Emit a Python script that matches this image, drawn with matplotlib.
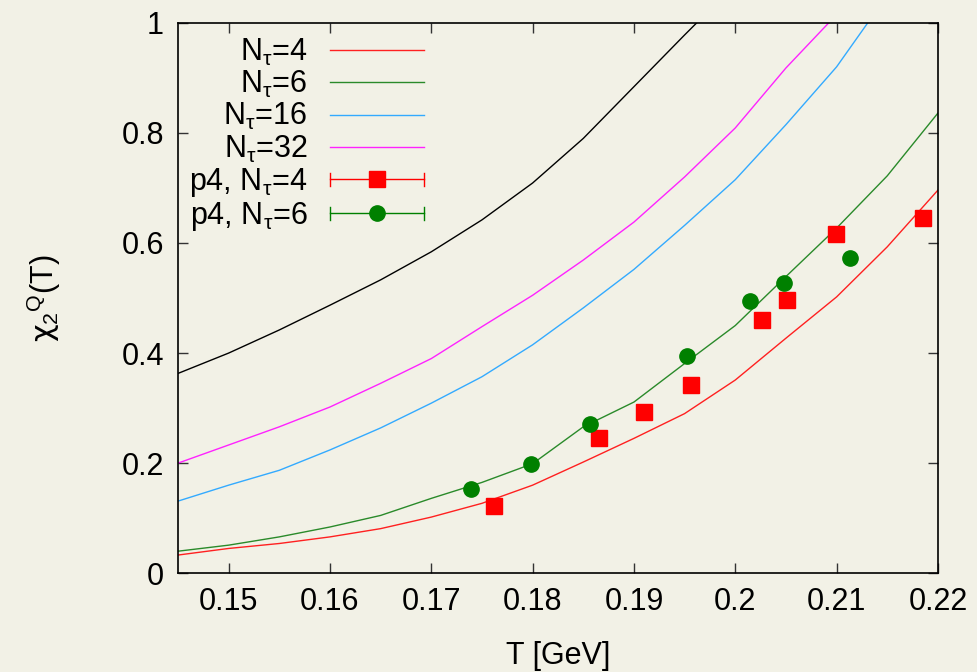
import matplotlib
matplotlib.use('Agg')
import matplotlib.pyplot as plt
from matplotlib.legend_handler import HandlerBase
from matplotlib.lines import Line2D

# temperature grid of the curves [GeV]
T = [0.145, 0.150, 0.155, 0.160, 0.165, 0.170, 0.175, 0.180,
     0.185, 0.190, 0.195, 0.200, 0.205, 0.210, 0.215, 0.220]

chi_hrg = [0.363, 0.400, 0.442, 0.487, 0.533, 0.584, 0.642, 0.709,
           0.790, 0.884, 0.978, 1.070]
chi_nt4 = [0.033, 0.045, 0.054, 0.066, 0.081, 0.102, 0.127, 0.160,
           0.202, 0.245, 0.290, 0.351, 0.427, 0.502, 0.593, 0.696]
chi_nt6 = [0.040, 0.051, 0.066, 0.084, 0.105, 0.136, 0.165, 0.199,
           0.266, 0.311, 0.381, 0.450, 0.539, 0.627, 0.722, 0.836]
chi_nt16 = [0.131, 0.160, 0.187, 0.224, 0.264, 0.309, 0.357, 0.415,
            0.482, 0.552, 0.632, 0.715, 0.815, 0.920, 1.050]
chi_nt32 = [0.200, 0.233, 0.266, 0.302, 0.345, 0.390, 0.448, 0.505,
            0.569, 0.638, 0.720, 0.809, 0.918, 1.015]

# p4 lattice data
p4_nt4_T = [0.1762, 0.1866, 0.1910, 0.1956, 0.2026, 0.2051, 0.2099, 0.2185]
p4_nt4_chi = [0.122, 0.245, 0.293, 0.342, 0.460, 0.496, 0.616, 0.645]
p4_nt6_T = [0.1739, 0.1798, 0.1857, 0.1952, 0.2015, 0.2048, 0.2113]
p4_nt6_chi = [0.153, 0.198, 0.271, 0.395, 0.494, 0.527, 0.573]

bg = '#f2f1e6'


class HandlerGnuplotErr(HandlerBase):
    # gnuplot style key sample: horizontal bar with caps and point in the middle
    def __init__(self, color, marker, ms):
        super().__init__()
        self.color = color
        self.marker = marker
        self.ms = ms

    def create_artists(self, legend, orig_handle, xdescent, ydescent,
                       width, height, fontsize, trans):
        y = height / 2 - ydescent
        x0 = -xdescent
        x1 = width - xdescent
        cap = height * 0.3
        arts = [Line2D([x0, x1], [y, y], color=self.color, lw=1.0),
                Line2D([x0, x0], [y - cap, y + cap], color=self.color, lw=1.0),
                Line2D([x1, x1], [y - cap, y + cap], color=self.color, lw=1.0),
                Line2D([(x0 + x1) / 2], [y], color=self.color, ls='none',
                       marker=self.marker, ms=self.ms)]
        for a in arts:
            a.set_transform(trans)
        return arts


plt.rcParams['font.family'] = ['Liberation Sans', 'DejaVu Sans']
plt.rcParams['mathtext.fontset'] = 'custom'
plt.rcParams['mathtext.rm'] = 'Liberation Sans'
plt.rcParams['mathtext.it'] = 'Liberation Sans:italic'
plt.rcParams['mathtext.sf'] = 'DejaVu Sans'

fig = plt.figure(figsize=(9.78, 6.72), dpi=100, facecolor=bg)
ax = fig.add_axes([0.182, 0.147, 0.777, 0.819])
ax.set_facecolor(bg)

ax.plot(T[:len(chi_nt4)], chi_nt4, color='#ff2020', lw=1.0)
ax.plot(T[:len(chi_nt6)], chi_nt6, color='#2a8a2a', lw=1.0)
ax.plot(T[:len(chi_nt16)], chi_nt16, color='#33aaff', lw=1.0)
ax.plot(T[:len(chi_nt32)], chi_nt32, color='#ff22ff', lw=1.0)
ax.plot(T[:len(chi_hrg)], chi_hrg, color='black', lw=1.0)

ax.plot(p4_nt4_T, p4_nt4_chi, ls='none', marker='s', ms=11.5, color='#ff0000')
ax.plot(p4_nt6_T, p4_nt6_chi, ls='none', marker='o', ms=11, color='#008000')

ax.set_xlim(0.145, 0.22)
ax.set_ylim(0, 1)
ax.set_xticks([0.15, 0.16, 0.17, 0.18, 0.19, 0.2, 0.21, 0.22])
ax.set_xticklabels(['0.15', '0.16', '0.17', '0.18', '0.19', '0.2', '0.21', '0.22'])
ax.set_yticks([0, 0.2, 0.4, 0.6, 0.8, 1])
ax.set_yticklabels(['0', '0.2', '0.4', '0.6', '0.8', '1'])
ax.tick_params(direction='in', length=7, width=1, top=True, right=True,
               labelsize=22, pad=10, colors='#333333', labelcolor='black')
for s in ax.spines.values():
    s.set_linewidth(1.2)

ax.set_xlabel('T [GeV]', fontsize=22, labelpad=17)
ax.set_ylabel(r'$\mathsf{χ}_2{}^{\mathrm{Q}}$(T)', fontsize=22, labelpad=42)

h_nt4 = Line2D([], [], color='#ff2020', lw=1.0)
h_nt6 = Line2D([], [], color='#2a8a2a', lw=1.0)
h_nt16 = Line2D([], [], color='#33aaff', lw=1.0)
h_nt32 = Line2D([], [], color='#ff22ff', lw=1.0)
h_p4 = Line2D([], [], color='#ff0000')
h_p6 = Line2D([], [], color='#008000', marker='o')
leg = ax.legend([h_nt4, h_nt6, h_nt16, h_nt32, h_p4, h_p6],
                [r'N$_\mathrm{τ}$=4', r'N$_\mathrm{τ}$=6', r'N$_\mathrm{τ}$=16',
                 r'N$_\mathrm{τ}$=32', r'p4, N$_\mathrm{τ}$=4', r'p4, N$_\mathrm{τ}$=6'],
                handler_map={h_p4: HandlerGnuplotErr('#ff0000', 's', 11.5),
                             h_p6: HandlerGnuplotErr('#008000', 'o', 11)},
                loc='upper left', bbox_to_anchor=(-0.0035, 1.0), frameon=False,
                markerfirst=False, fontsize=22, handlelength=3.07,
                handletextpad=0.75, labelspacing=0.04, borderaxespad=0.05)

fig.savefig('out.png', dpi=100, facecolor=bg)
